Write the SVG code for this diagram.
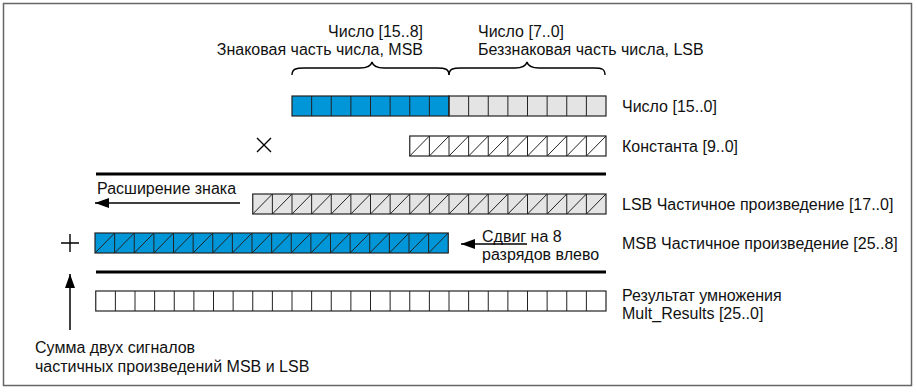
<svg xmlns="http://www.w3.org/2000/svg" width="917" height="392" viewBox="0 0 917 392">
<defs>
<style>
text{font-family:"Liberation Sans",Arial,sans-serif;font-size:16px;fill:#111}
.cell{stroke:#222;stroke-width:1.2}
.div{fill:none;stroke:#222;stroke-width:1}
.thick{stroke:#000;stroke-width:3}
.thin{stroke:#000;stroke-width:1.4;fill:none}
.conn{stroke:#000;stroke-width:1.5;fill:none;marker-end:url(#ah)}
.blue{fill:#0096d8}
.gray{fill:#e4e4e4}
.white{fill:#fff}
</style>
<marker id="ah" viewBox="0 0 14 10" refX="14" refY="5" markerWidth="14" markerHeight="10" markerUnits="userSpaceOnUse" orient="auto"><path d="M0,0 L14,5 L0,10 z" fill="#000"/></marker>
</defs>
<rect x="0" y="0" width="917" height="392" fill="#fff"/>
<rect x="3.5" y="3.5" width="908" height="382" fill="none" stroke="#666" stroke-width="1.5"/>

<g id="top-labels">
<text x="423" y="37" text-anchor="end">Число [15..8]</text>
<text x="423" y="55" text-anchor="end">Знаковая часть числа, MSB</text>
<text x="478" y="37">Число [7..0]</text>
<text x="478" y="55">Беззнаковая часть числа, LSB</text>
<path class="thin" stroke-width="1" d="M292,75 C292,69 296,68 304,68 L360,68 C368,68 371,66 372,62 C373,66 376,68 384,68 L437,68 C445,68 449,69 449,75"/>
<path class="thin" stroke-width="1" d="M449,75 C449,69 453,68 461,68 L515,68 C523,68 526,66 527,62 C528,66 531,68 539,68 L594,68 C602,68 605,69 605,75"/>
</g>

<g id="number">
<rect class="cell blue" x="292" y="96" width="157" height="20"/>
<rect class="cell gray" x="449" y="96" width="157" height="20"/>
<path class="div" d="M311.625,96 v20 m19.625,-20 v20 m19.625,-20 v20 m19.625,-20 v20 m19.625,-20 v20 m19.625,-20 v20 m19.625,-20 v20 m19.625,-20 v20 m19.625,-20 v20 m19.625,-20 v20 m19.625,-20 v20 m19.625,-20 v20 m19.625,-20 v20 m19.625,-20 v20 m19.625,-20 v20"/>
<text x="622" y="112">Число [15..0]</text>
</g>

<g id="multiply-sign">
<path class="thin" stroke-width="1.2" d="M257,138 L271,152 M271,138 L257,152"/>
</g>

<g id="constant">
<rect class="cell white" x="409.75" y="136" width="196.25" height="20"/>
<path class="div" d="M429.375,136 v20 m19.625,-20 v20 m19.625,-20 v20 m19.625,-20 v20 m19.625,-20 v20 m19.625,-20 v20 m19.625,-20 v20 m19.625,-20 v20 m19.625,-20 v20"/>
<path class="div" d="M409.75,156 l19.625,-20 m0,20 l19.625,-20 m0,20 l19.625,-20 m0,20 l19.625,-20 m0,20 l19.625,-20 m0,20 l19.625,-20 m0,20 l19.625,-20 m0,20 l19.625,-20 m0,20 l19.625,-20 m0,20 l19.625,-20"/>
<text x="622" y="152">Константа [9..0]</text>
</g>

<g id="rule-1">
<line class="thick" x1="96" y1="174" x2="606" y2="174"/>
</g>

<g id="lsb-product">
<rect class="cell gray" x="252.75" y="194" width="353.25" height="20"/>
<path class="div" d="M272.375,194 v20 m19.625,-20 v20 m19.625,-20 v20 m19.625,-20 v20 m19.625,-20 v20 m19.625,-20 v20 m19.625,-20 v20 m19.625,-20 v20 m19.625,-20 v20 m19.625,-20 v20 m19.625,-20 v20 m19.625,-20 v20 m19.625,-20 v20 m19.625,-20 v20 m19.625,-20 v20 m19.625,-20 v20 m19.625,-20 v20"/>
<path class="div" d="M252.75,214 l19.625,-20 m0,20 l19.625,-20 m0,20 l19.625,-20 m0,20 l19.625,-20 m0,20 l19.625,-20 m0,20 l19.625,-20 m0,20 l19.625,-20 m0,20 l19.625,-20 m0,20 l19.625,-20 m0,20 l19.625,-20 m0,20 l19.625,-20 m0,20 l19.625,-20 m0,20 l19.625,-20 m0,20 l19.625,-20 m0,20 l19.625,-20 m0,20 l19.625,-20 m0,20 l19.625,-20 m0,20 l19.625,-20"/>
<text x="622" y="210">LSB Частичное произведение [17..0]</text>
</g>

<g id="sign-extension">
<text x="97" y="194">Расширение знака</text>
</g>

<g id="plus-sign">
<path class="thin" stroke-width="1.2" d="M61,243 H79 M70,234 V252"/>
</g>

<g id="msb-product">
<rect class="cell blue" x="95" y="233" width="353.25" height="20"/>
<path class="div" d="M114.625,233 v20 m19.625,-20 v20 m19.625,-20 v20 m19.625,-20 v20 m19.625,-20 v20 m19.625,-20 v20 m19.625,-20 v20 m19.625,-20 v20 m19.625,-20 v20 m19.625,-20 v20 m19.625,-20 v20 m19.625,-20 v20 m19.625,-20 v20 m19.625,-20 v20 m19.625,-20 v20 m19.625,-20 v20 m19.625,-20 v20"/>
<path class="div" d="M95,253 l19.625,-20 m0,20 l19.625,-20 m0,20 l19.625,-20 m0,20 l19.625,-20 m0,20 l19.625,-20 m0,20 l19.625,-20 m0,20 l19.625,-20 m0,20 l19.625,-20 m0,20 l19.625,-20 m0,20 l19.625,-20 m0,20 l19.625,-20 m0,20 l19.625,-20 m0,20 l19.625,-20 m0,20 l19.625,-20 m0,20 l19.625,-20 m0,20 l19.625,-20 m0,20 l19.625,-20 m0,20 l19.625,-20"/>
<text x="622" y="249">MSB Частичное произведение [25..8]</text>
</g>

<g id="shift">
<text x="482" y="242">Сдвиг на 8</text>
<text x="482" y="260">разрядов влево</text>
</g>

<g id="rule-2">
<line class="thick" x1="96" y1="272" x2="606" y2="272"/>
</g>

<g id="result">
<rect class="cell white" x="95.75" y="291" width="510.25" height="20"/>
<path class="div" d="M115.375,291 v20 m19.625,-20 v20 m19.625,-20 v20 m19.625,-20 v20 m19.625,-20 v20 m19.625,-20 v20 m19.625,-20 v20 m19.625,-20 v20 m19.625,-20 v20 m19.625,-20 v20 m19.625,-20 v20 m19.625,-20 v20 m19.625,-20 v20 m19.625,-20 v20 m19.625,-20 v20 m19.625,-20 v20 m19.625,-20 v20 m19.625,-20 v20 m19.625,-20 v20 m19.625,-20 v20 m19.625,-20 v20 m19.625,-20 v20 m19.625,-20 v20 m19.625,-20 v20 m19.625,-20 v20"/>
<text x="622" y="301">Результат умножения</text>
<text x="622" y="319">Mult_Results [25..0]</text>
</g>

<g id="sum-note">
<text x="35" y="353">Сумма двух сигналов</text>
<text x="35" y="372">частичных произведений MSB и LSB</text>
</g>

<g id="connectors">
<line class="conn" x1="240" y1="203" x2="95" y2="203"/>
<line class="conn" x1="527" y1="244" x2="461" y2="244"/>
<line class="conn" x1="70" y1="330" x2="70" y2="274"/>
</g>
</svg>
